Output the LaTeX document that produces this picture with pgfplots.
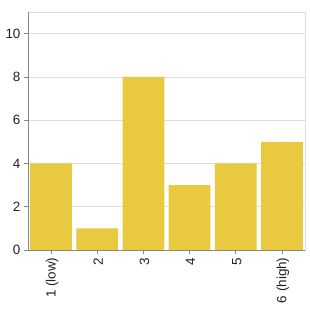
\documentclass[border=0pt]{standalone}
\usepackage{pgfplots}
\pgfplotsset{compat=1.18}
\usepackage{fontspec}
\setmainfont{Liberation Sans}
\definecolor{barc}{RGB}{233,201,63}
\definecolor{gridc}{RGB}{221,221,221}
\definecolor{axc}{RGB}{136,136,136}
\definecolor{txt}{RGB}{34,34,34}
\begin{document}
\begin{tikzpicture}
\begin{axis}[
  scale only axis, width=277bp, height=238bp,
  xmin=-0.5, xmax=5.5, ymin=0, ymax=11,
  xtick={0,1,2,3,4,5},
  xticklabels={1 (low),2,3,4,5,6 (high)},
  ytick={0,2,4,6,8,10},
  xtick pos=left, ytick pos=left,
  tick align=outside, major tick length=4bp,
  tick style={axc, line width=0.8pt},
  ymajorgrids, grid style={gridc, line width=0.8pt},
  axis line style={gridc, line width=0.8pt},
  x tick label style={rotate=90, anchor=east, font=\fontsize{13.5}{15}\selectfont, text=txt},
  y tick label style={font=\fontsize{13.5}{15}\selectfont, text=txt},
  /pgf/number format/assume math mode=true,
  xticklabel style={yshift=-1bp},
]
\addplot[ybar, bar width=0.905, fill=barc, draw=none] coordinates {(0,4) (1,1) (2,8) (3,3) (4,4) (5,5)};
\draw[axc, line width=0.8pt] (rel axis cs:0,0) -- (rel axis cs:0,1);
\draw[axc, line width=0.8pt] (rel axis cs:0,0) -- (rel axis cs:1,0);
\end{axis}
\useasboundingbox (-28bp,-60bp) rectangle (282bp,250bp);
\end{tikzpicture}
\end{document}
